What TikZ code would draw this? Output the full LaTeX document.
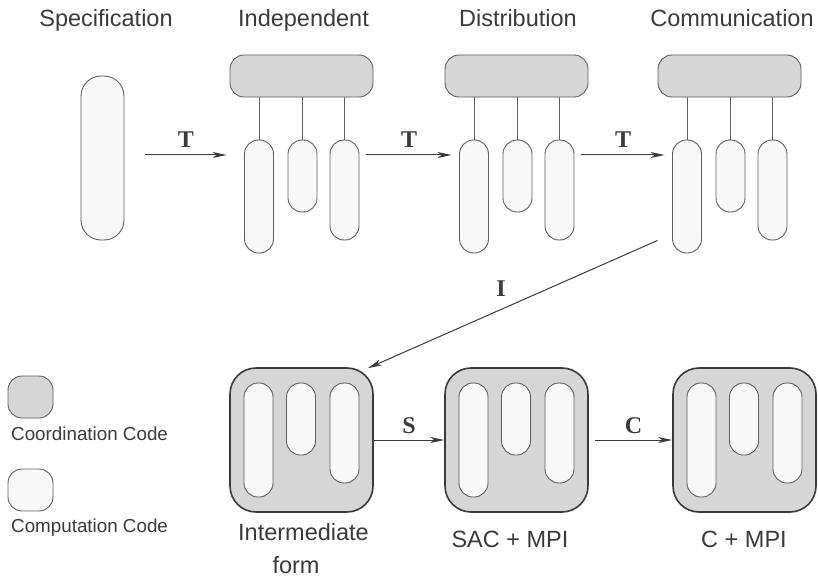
\documentclass[tikz,border=0pt]{standalone}
\usepackage{fontspec}
\setmainfont{Liberation Sans}
\newfontfamily\lblfont{Liberation Serif}
\usetikzlibrary{arrows.meta,calc}
\definecolor{coordfill}{HTML}{D6D6D6}
\definecolor{compfill}{HTML}{F8F8F8}
\definecolor{edge}{HTML}{5E5E5E}
\definecolor{ink}{HTML}{3A3A3A}
\tikzset{
  coordbox/.style={draw=edge, fill=coordfill, rounded corners=14pt, line width=0.9pt,
    inner sep=0pt, minimum width=143pt, minimum height=42pt},
  compbar/.style={draw=edge, fill=compfill, rounded corners=14pt, line width=0.9pt,
    inner sep=0pt, minimum width=29pt},
  hostbox/.style={draw=ink, fill=coordfill, rounded corners=26pt, line width=1.6pt,
    inner sep=0pt, minimum width=143pt, minimum height=144pt},
  legendbox/.style={draw=edge, rounded corners=14pt, line width=0.9pt,
    inner sep=0pt, minimum width=45pt, minimum height=42pt},
  arr/.style={draw=ink, line width=1pt, -{Stealth[length=14pt,width=6pt,inset=4pt]}},
  link/.style={draw=edge, line width=0.9pt},
  title/.style={font=\fontsize{23.5}{28}\selectfont, text=ink, anchor=base, inner sep=0pt},
  legendtxt/.style={font=\fontsize{18.8}{22}\selectfont, text=ink, anchor=base west, inner sep=0pt},
  tlbl/.style={font=\lblfont\bfseries\fontsize{24}{28}\selectfont, text=ink, anchor=base, inner sep=0pt},
  % coordination bar with three computation components hanging below
  stage/.pic={
    \node[coordbox] (-top) at (71.5,21) {};
    \node[compbar, minimum height=113pt] (-b1) at (29,141.5) {};
    \node[compbar, minimum height=72pt]  (-b2) at (72.5,121) {};
    \node[compbar, minimum height=100pt] (-b3) at (114.5,135) {};
    \draw[link] (-top.south -| -b1.north) -- (-b1.north);
    \draw[link] (-top.south -| -b2.north) -- (-b2.north);
    \draw[link] (-top.south -| -b3.north) -- (-b3.north);
  },
  % computation components embedded in a coordination block
  hosted/.pic={
    \node[hostbox] (-box) at (71.5,72) {};
    \node[compbar, minimum height=114pt] (-b1) at (28.5,72) {};
    \node[compbar, minimum height=72pt]  (-b2) at (71,51) {};
    \node[compbar, minimum height=100pt] (-b3) at (114.5,65) {};
  }
}
\begin{document}
\begin{tikzpicture}[x=1pt, y=-1pt]
\useasboundingbox (0,0) rectangle (818,580);

% stage titles
\node[title] (tspec) at (106,27)   {Specification};
\node[title] (tind)  at (303.5,27) {Independent};
\node[title] (tdist) at (518,27)   {Distribution};
\node[title] (tcomm) at (732,27)   {Communication};

% top row
\node[compbar, minimum width=43pt, minimum height=164pt, rounded corners=20pt] (spec) at (102.5,158) {};
\pic (ind)  at (230,55) {stage};
\pic (dist) at (445,55) {stage};
\pic (comm) at (658,55) {stage};

\draw[arr] ($(spec.east)+(21,-3)$) coordinate (t1a)
  -- ($(t1a -| ind-b1.west)+(-17.5,0)$) node[tlbl, midway, yshift=7pt] (t1) {T};
\draw[arr] ($(ind-b3.east |- t1a)+(7,0)$)
  -- ($(t1a -| dist-b1.west)+(-7.5,0)$) node[tlbl, midway, yshift=7pt] (t2) {T};
\draw[arr] ($(dist-b3.east |- t1a)+(7,0)$)
  -- ($(t1a -| comm-b1.west)+(-7.5,0)$) node[tlbl, midway, yshift=7pt] (t3) {T};

% bottom row
\pic (inter) at (230,368) {hosted};
\pic (sac)   at (445,368) {hosted};
\pic (cmpi)  at (673,368) {hosted};

\draw[arr] ($(comm-b1.south west)+(-14.5,-13)$)
  -- ($(inter-box.north east)+(-6,1)$) node[tlbl, pos=0.54, yshift=13pt] (il) {I};
\draw[arr] (inter-box.east) -- (sac-box.west) node[tlbl, midway, yshift=7pt] (sl) {S};
\draw[arr] ($(sac-box.east)+(6,0)$) -- (cmpi-box.west) node[tlbl, midway, yshift=7pt] (cl) {C};

\node[title] (linter) at (303.5,540) {Intermediate};
\node[title] (lform)  at (296,573)   {form};
\node[title] (lsac)   at (510,547)   {SAC + MPI};
\node[title] (lc)     at (744,547)   {C + MPI};

% legend
\node[legendbox, fill=coordfill] (legc) at (30.5,397) {};
\node[legendtxt] (legct) at (11,440) {Coordination Code};
\node[legendbox, fill=compfill] (legp) at (30.5,490) {};
\node[legendtxt] (legpt) at (11,532) {Computation Code};
\end{tikzpicture}
\end{document}
